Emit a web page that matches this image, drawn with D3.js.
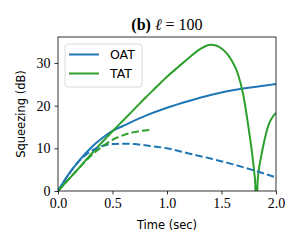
<!DOCTYPE html>
<html>
<head>
<meta charset="utf-8">
<script src="https://cdn.jsdelivr.net/npm/d3@7"></script>
<style>
  body { margin: 0; background: #fff; }
  svg { display: block; }
</style>
</head>
<body>
<div class="chart"></div>
<script>
// values
const oatTime = [0, 0.1, 0.2, 0.3, 0.4, 0.5, 0.6, 0.8, 1.0, 1.2, 1.4, 1.6, 1.8, 2.0];
const oatFull = [0, 4.0, 7.3, 10.1, 12.3, 14.1, 15.3, 17.6, 19.5, 21.1, 22.5, 23.6, 24.4, 25.1];

const oatDashTime = [0, 0.1, 0.2, 0.3, 0.4, 0.5, 0.6, 0.7, 0.8, 1.0, 1.2, 1.4, 1.6, 1.8, 2.0];
const oatDash = [0, 4.0, 7.2, 9.3, 10.5, 11.0, 11.1, 11.0, 10.7, 10.0, 8.8, 7.6, 6.3, 4.8, 3.2];

const tatTime = [0, 0.1, 0.2, 0.3, 0.4, 0.5, 0.6, 0.7, 0.8, 0.9, 1.0, 1.1, 1.2, 1.3, 1.4, 1.45, 1.5, 1.55, 1.6, 1.65, 1.7, 1.75, 1.78, 1.8, 1.81, 1.82, 1.83, 1.84, 1.86, 1.88, 1.91, 1.94, 1.97, 2.0];
const tatFull = [0, 2.8, 5.6, 8.5, 11.3, 14.0, 16.6, 19.2, 21.8, 24.3, 26.8, 29.0, 31.2, 33.2, 34.3, 34.1, 33.4, 32.2, 30.3, 27.5, 22.5, 14.5, 9.0, 4.5, 1.5, -10, 1.5, 4.5, 7.6, 10.2, 13.6, 16.0, 17.4, 18.3];

const tatDashTime = [0, 0.1, 0.2, 0.3, 0.4, 0.5, 0.6, 0.7, 0.84];
const tatDash = [0, 2.8, 5.6, 8.2, 10.3, 12.0, 13.1, 13.8, 14.3];

const xTicks = [0, 0.5, 1.0, 1.5, 2.0];
const yTicks = [0, 10, 20, 30];
const seriesNames = ["OAT", "TAT"];
const seriesColors = ["#1f77b4", "#2ca02c"];

const W = 300, H = 250;
const margin = ({left: 58, right: 276, top: 37, bottom: 191});

const svg = d3.select('.chart').append('svg')
    .attr("width", W)
    .attr("height", H);

const x = d3.scaleLinear().domain([0, 2]).range([margin.left, margin.right]);
const y = d3.scaleLinear().domain([0, 36.1]).range([margin.bottom, margin.top]);

svg.append("defs").append("clipPath")
    .attr("id", "clip")
  .append("rect")
    .attr("x", margin.left).attr("y", margin.top)
    .attr("width", margin.right - margin.left).attr("height", margin.bottom - margin.top);

const line = d3.line()
    .curve(d3.curveMonotoneX)
    .x(d => x(d[0]))
    .y(d => y(d[1]));

const zip = (a, b) => a.map((t, i) => [t, b[i]]);

const plot = svg.append("g").attr("clip-path", "url(#clip)");

function draw(t, v, color, dashed) {
  plot.append("path")
    .datum(zip(t, v))
    .attr("fill", "none")
    .attr("stroke", color)
    .attr("stroke-width", 2)
    .attr("stroke-dasharray", dashed ? "7.4,3.2" : null)
    .attr("d", line);
}

draw(oatTime, oatFull, seriesColors[0], false);
draw(tatTime, tatFull, seriesColors[1], false);
draw(oatDashTime, oatDash, seriesColors[0], true);
draw(tatDashTime, tatDash, seriesColors[1], true);

// axes
const xAxis = d3.axisBottom(x).tickValues(xTicks).tickFormat(d3.format(".1f")).tickSize(3.5).tickPadding(3.5);
const yAxis = d3.axisLeft(y).tickValues(yTicks).tickFormat(d3.format("d")).tickSize(3.5).tickPadding(4);

svg.append("g")
    .attr("transform", `translate(0,${margin.bottom})`)
    .call(xAxis)
    .call(g => g.select(".domain").remove())
    .call(g => g.selectAll("text").attr("font-family", "'Liberation Serif', serif").attr("font-size", 14).attr("fill", "#000"))
    .call(g => g.selectAll("line").attr("stroke", "#000").attr("stroke-width", 0.8));

svg.append("g")
    .attr("transform", `translate(${margin.left},0)`)
    .call(yAxis)
    .call(g => g.select(".domain").remove())
    .call(g => g.selectAll("text").attr("font-family", "'Liberation Serif', serif").attr("font-size", 14).attr("fill", "#000"))
    .call(g => g.selectAll("line").attr("stroke", "#000").attr("stroke-width", 0.8));

svg.append("rect")
    .attr("x", margin.left).attr("y", margin.top)
    .attr("width", margin.right - margin.left).attr("height", margin.bottom - margin.top)
    .attr("fill", "none")
    .attr("stroke", "#000")
    .attr("stroke-width", 0.8);

// legend
const legend = svg.append("g");
legend.append("rect")
    .attr("x", 65).attr("y", 44)
    .attr("width", 77).attr("height", 43)
    .attr("rx", 3)
    .attr("fill", "#fff").attr("fill-opacity", 0.8)
    .attr("stroke", "#d0d0d0").attr("stroke-width", 0.8);

seriesNames.forEach((name, i) => {
  const ly = 54.5 + i * 19;
  legend.append("line")
      .attr("x1", 69).attr("x2", 99)
      .attr("y1", ly).attr("y2", ly)
      .attr("stroke", seriesColors[i]).attr("stroke-width", 2);
  legend.append("text")
      .attr("x", 110).attr("y", ly + 4.5)
      .attr("font-family", "'DejaVu Sans', sans-serif")
      .attr("font-size", 12.5)
      .text(name);
});

// labels
svg.append("text")
    .attr("x", (margin.left + margin.right) / 2).attr("y", 229)
    .attr("text-anchor", "middle")
    .attr("font-family", "'DejaVu Sans', sans-serif")
    .attr("font-size", 11.5)
    .text("Time (sec)");

svg.append("text")
    .attr("transform", `translate(24.5,${(margin.top + margin.bottom) / 2}) rotate(-90)`)
    .attr("text-anchor", "middle")
    .attr("font-family", "'DejaVu Sans', sans-serif")
    .attr("font-size", 11.5)
    .text("Squeezing (dB)");

const title = svg.append("text")
    .attr("x", (margin.left + margin.right) / 2).attr("y", 30)
    .attr("text-anchor", "middle")
    .attr("font-family", "'Liberation Serif', serif")
    .attr("font-size", 16);
title.append("tspan").attr("font-weight", "bold").text("(b)");
title.append("tspan").text(" ");
title.append("tspan").attr("font-style", "italic").text("ℓ");
title.append("tspan").text(" = 100");
</script>
</body>
</html>
